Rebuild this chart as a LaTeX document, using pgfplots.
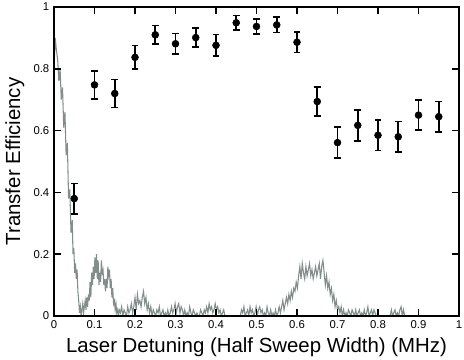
\documentclass[border=0pt]{standalone}
\usepackage{fontspec}
\setmainfont{Liberation Sans}
\usepackage{pgfplots}
\pgfplotsset{compat=1.18}
\definecolor{trace}{RGB}{130,142,140}

\pgfplotstableread{
x     y      e
0.05  0.380  0.049
0.10  0.748  0.045
0.15  0.720  0.045
0.20  0.837  0.038
0.25  0.910  0.030
0.30  0.881  0.033
0.35  0.901  0.031
0.40  0.876  0.035
0.45  0.949  0.023
0.50  0.937  0.025
0.55  0.942  0.025
0.60  0.886  0.033
0.65  0.694  0.047
0.70  0.561  0.050
0.75  0.617  0.050
0.80  0.585  0.050
0.85  0.580  0.050
0.90  0.650  0.049
0.95  0.645  0.049
}\efficiency

\begin{document}
\begin{tikzpicture}
\begin{axis}[
    scale only axis,
    width=303.75pt, height=231.75pt,
    xmin=0, xmax=1, ymin=0, ymax=1,
    xtick={0,0.1,0.2,0.3,0.4,0.5,0.6,0.7,0.8,0.9,1},
    ytick={0,0.2,0.4,0.6,0.8,1},
    tick align=inside,
    major tick length=5pt,
    minor tick num=0,
    axis line style={line width=1.1pt},
    every tick/.style={black, line width=1.1pt},
    tick label style={font=\fontsize{8.5}{10}\selectfont},
    /pgf/number format/assume math mode=true,
    xlabel={Laser Detuning (Half Sweep Width) (MHz)},
    ylabel={Transfer Efficiency},
    label style={font=\fontsize{15.3}{18}\selectfont},
    axis on top,
  ]
  \coordinate (bl) at (rel axis cs:0,0);

  % measured spectrum (grey trace)
  \addplot[trace, line width=0.8pt] coordinates {
    (0.000,0.80) (0.003,0.90) (0.006,0.86) (0.009,0.83) (0.012,0.76)
    (0.015,0.80) (0.018,0.70) (0.021,0.74) (0.024,0.61) (0.027,0.66)
    (0.030,0.52) (0.033,0.56) (0.036,0.38) (0.039,0.41) (0.042,0.27)
    (0.045,0.31) (0.047,0.20) (0.049,0.22) (0.051,0.14) (0.053,0.17)
    (0.055,0.12) (0.057,0.15) (0.059,0.08) (0.061,0.05) (0.063,0.01)
    (0.065,0.03) (0.067,0.00) (0.069,0.02) (0.071,0.04) (0.073,0.01)
    (0.075,0.03) (0.077,0.05) (0.079,0.02) (0.081,0.06) (0.083,0.03)
    (0.085,0.07) (0.087,0.05) (0.089,0.11) (0.091,0.06) (0.093,0.14)
    (0.095,0.10) (0.097,0.16) (0.099,0.12) (0.101,0.19) (0.103,0.14)
    (0.105,0.20) (0.107,0.12) (0.109,0.18) (0.111,0.10) (0.113,0.14)
    (0.115,0.11) (0.117,0.18) (0.119,0.14) (0.121,0.15) (0.123,0.10)
    (0.125,0.12) (0.127,0.08) (0.129,0.12) (0.131,0.09) (0.133,0.16)
    (0.135,0.13) (0.137,0.15) (0.139,0.09) (0.141,0.12) (0.143,0.06)
    (0.145,0.09) (0.147,0.04) (0.149,0.05) (0.151,0.02) (0.153,0.04)
    (0.155,0.01) (0.157,0.02) (0.159,0.00)
    (0.161,0.02) (0.164,0.01) (0.167,0.03) (0.170,0.00) (0.173,0.02)
    (0.176,0.01) (0.179,0.00) (0.182,0.03) (0.185,0.01) (0.188,0.02)
    (0.191,0.04) (0.194,0.01) (0.197,0.03) (0.200,0.06) (0.203,0.02)
    (0.206,0.07) (0.209,0.04) (0.212,0.05) (0.215,0.03) (0.218,0.06)
    (0.221,0.08) (0.224,0.04) (0.227,0.06) (0.230,0.02) (0.233,0.04)
    (0.236,0.01) (0.239,0.03) (0.242,0.00) (0.245,0.02) (0.248,0.01)
    (0.251,0.00) (0.254,0.02) (0.257,0.01) (0.260,0.03) (0.263,0.00)
    (0.266,0.01) (0.269,0.02) (0.272,0.00) (0.275,0.01) (0.278,0.00)
    (0.281,0.02) (0.284,0.00) (0.287,0.01) (0.290,0.03) (0.293,0.01)
    (0.296,0.02) (0.299,0.04) (0.302,0.01) (0.305,0.03) (0.308,0.04)
    (0.311,0.01) (0.314,0.03) (0.317,0.02) (0.320,0.00) (0.323,0.02)
    (0.326,0.00) (0.329,0.01) (0.332,0.00) (0.335,0.03) (0.338,0.01)
    (0.341,0.00) (0.344,0.02) (0.347,0.01) (0.350,0.00) (0.353,0.01)
    (0.356,0.00) (0.359,0.00) (0.362,0.02) (0.365,0.01) (0.368,0.00)
    (0.371,0.02) (0.374,0.01) (0.377,0.03) (0.380,0.01) (0.383,0.04)
    (0.386,0.02) (0.389,0.03) (0.392,0.01) (0.395,0.02) (0.398,0.04)
    (0.401,0.02) (0.404,0.03) (0.407,0.01) (0.410,0.02) (0.413,0.00)
    (0.416,0.01) (0.419,0.02) (0.422,0.00) (0.425,0.00) (0.460,0.00)
    (0.463,0.02) (0.466,0.01) (0.469,0.03) (0.472,0.00) (0.475,0.01)
    (0.478,0.02) (0.481,0.00) (0.484,0.03) (0.487,0.01) (0.490,0.02)
    (0.493,0.00) (0.496,0.01) (0.499,0.03) (0.502,0.00) (0.505,0.02)
    (0.508,0.03) (0.511,0.01) (0.514,0.02) (0.517,0.00) (0.520,0.01)
    (0.523,0.00) (0.526,0.03) (0.529,0.01) (0.532,0.00) (0.535,0.02)
    (0.538,0.00) (0.541,0.01) (0.544,0.00) (0.547,0.02) (0.550,0.00)
    (0.553,0.01) (0.556,0.03) (0.559,0.01) (0.562,0.03) (0.565,0.05)
    (0.568,0.02) (0.571,0.04) (0.574,0.06) (0.577,0.04) (0.580,0.07)
    (0.583,0.05) (0.586,0.08) (0.589,0.06) (0.592,0.09) (0.595,0.08)
    (0.598,0.11) (0.601,0.09) (0.604,0.13) (0.607,0.16) (0.610,0.12)
    (0.613,0.17) (0.616,0.14) (0.619,0.12) (0.622,0.16) (0.625,0.13)
    (0.628,0.15) (0.631,0.17) (0.634,0.13) (0.637,0.15) (0.640,0.12)
    (0.643,0.14) (0.646,0.16) (0.649,0.13) (0.652,0.15) (0.655,0.17)
    (0.658,0.12) (0.661,0.16) (0.664,0.18) (0.667,0.14) (0.670,0.10)
    (0.673,0.13) (0.676,0.09) (0.679,0.11) (0.682,0.07) (0.685,0.09)
    (0.688,0.05) (0.691,0.07) (0.694,0.03) (0.697,0.05) (0.700,0.02)
    (0.703,0.03) (0.706,0.01) (0.709,0.03) (0.712,0.00) (0.715,0.02)
    (0.718,0.00) (0.721,0.01) (0.724,0.00) (0.727,0.02) (0.730,0.01)
    (0.733,0.00) (0.736,0.02) (0.739,0.01) (0.742,0.00) (0.745,0.02)
    (0.748,0.00) (0.751,0.01) (0.754,0.02) (0.757,0.00) (0.760,0.01)
    (0.763,0.00) (0.766,0.02) (0.769,0.00) (0.772,0.01) (0.775,0.03)
    (0.778,0.00) (0.781,0.01) (0.784,0.02) (0.787,0.00) (0.790,0.02)
    (0.793,0.01) (0.796,0.00) (0.830,0.00) (0.833,0.02) (0.836,0.00)
    (0.839,0.01) (0.842,0.02) (0.845,0.00) (0.848,0.01) (0.851,0.00)
    (0.854,0.02) (0.857,0.03) (0.860,0.00) (0.863,0.02) (0.866,0.00)
  };

  % transfer efficiency with error bars
  \addplot[black, only marks, mark=*, mark size=2.6pt,
    error bars/.cd, y dir=both, y explicit,
    error bar style={line width=1.2pt},
    error mark options={rotate=90, mark size=2.5pt, line width=1.2pt}]
    table[x=x, y=y, y error=e] {\efficiency};
\end{axis}
\pgfresetboundingbox
\path (bl) ++(-40.5pt,-33pt) rectangle ++(348pt,270pt);
\end{tikzpicture}
\end{document}
